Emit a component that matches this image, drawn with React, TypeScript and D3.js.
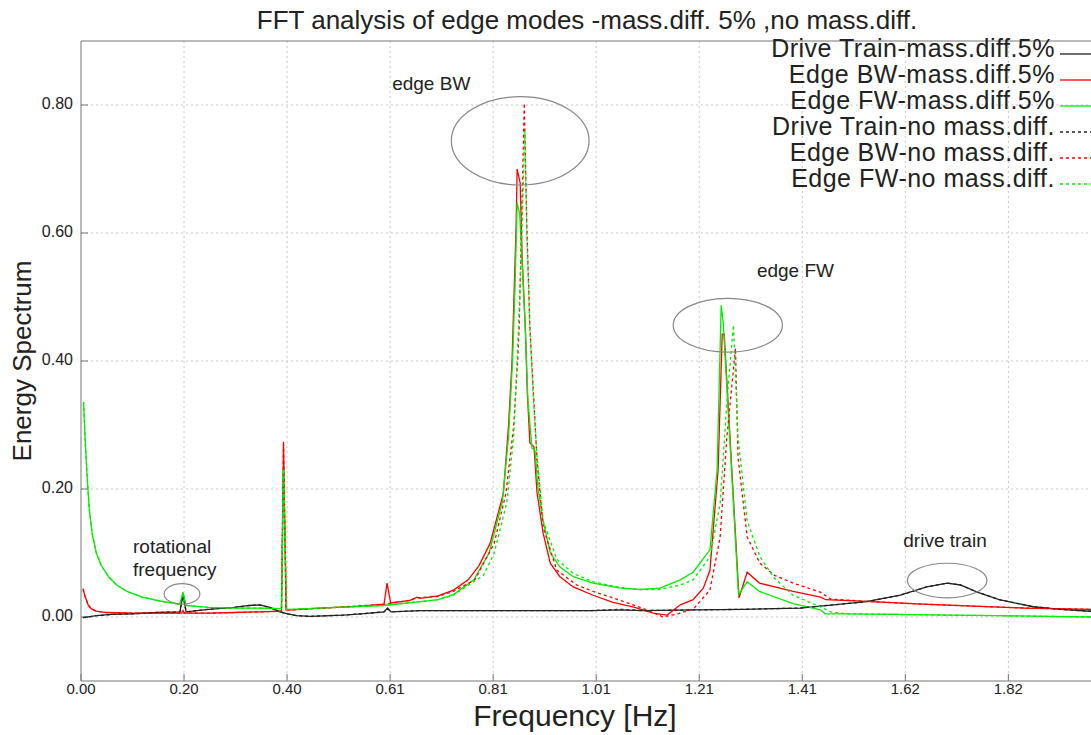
import React from "react";
import * as d3 from "d3";

type P = [number, number];

const titleText = "FFT analysis of edge modes -mass.diff. 5% ,no mass.diff.";
const xLabel = "Frequency [Hz]";
const yLabel = "Energy Spectrum";

const xTickValues = [0, 0.202, 0.404, 0.606, 0.808, 1.01, 1.212, 1.414, 1.616, 1.818];
const xTickLabels = ["0.00", "0.20", "0.40", "0.61", "0.81", "1.01", "1.21", "1.41", "1.62", "1.82"];
const yTickValues = [0, 0.2, 0.4, 0.6, 0.8];
const yTickLabels = ["0.00", "0.20", "0.40", "0.60", "0.80"];

const driveTrain5: P[] = [
  [0.004, -0.001], [0.03, 0.002], [0.06, 0.004], [0.1, 0.005], [0.15, 0.007], [0.194, 0.008],
  [0.2, 0.036], [0.206, 0.008], [0.25, 0.012], [0.3, 0.015], [0.33, 0.018], [0.35, 0.019],
  [0.37, 0.015], [0.39, 0.008], [0.405, 0.005], [0.423, 0.002], [0.45, 0.001], [0.514, 0.003],
  [0.55, 0.005], [0.594, 0.008], [0.601, 0.014], [0.608, 0.008], [0.665, 0.01], [0.8, 0.01],
  [0.9, 0.01], [1.0, 0.01], [1.06, 0.011], [1.1, 0.01], [1.2, 0.011], [1.3, 0.012], [1.41, 0.014],
  [1.475, 0.019], [1.54, 0.024], [1.606, 0.034], [1.658, 0.047], [1.698, 0.053], [1.724, 0.05],
  [1.757, 0.039], [1.8, 0.027], [1.867, 0.016], [1.92, 0.012], [1.98, 0.009],
];

const edgeBW5: P[] = [
  [0.004, 0.044], [0.008, 0.032], [0.014, 0.019], [0.02, 0.013], [0.03, 0.009], [0.05, 0.007],
  [0.1, 0.006], [0.15, 0.006], [0.197, 0.006], [0.2, 0.01], [0.203, 0.006], [0.25, 0.006],
  [0.3, 0.007], [0.35, 0.008], [0.393, 0.009], [0.397, 0.274], [0.402, 0.011], [0.414, 0.011],
  [0.45, 0.013], [0.5, 0.015], [0.55, 0.017], [0.594, 0.02], [0.6, 0.053], [0.607, 0.022],
  [0.645, 0.026], [0.659, 0.031], [0.665, 0.029], [0.7, 0.033], [0.73, 0.042], [0.759, 0.058],
  [0.78, 0.08], [0.802, 0.115], [0.828, 0.193], [0.838, 0.297], [0.845, 0.4], [0.849, 0.506],
  [0.853, 0.61], [0.855, 0.7], [0.861, 0.678], [0.865, 0.558], [0.871, 0.453], [0.875, 0.35],
  [0.88, 0.272], [0.888, 0.266], [0.894, 0.194], [0.906, 0.131], [0.92, 0.084], [0.939, 0.063],
  [0.965, 0.047], [1.004, 0.034], [1.043, 0.023], [1.082, 0.016], [1.122, 0.006], [1.149, 0.003],
  [1.175, 0.019], [1.2, 0.027], [1.22, 0.045], [1.233, 0.073], [1.249, 0.23], [1.257, 0.442],
  [1.261, 0.442], [1.29, 0.03], [1.306, 0.07], [1.33, 0.053], [1.396, 0.04], [1.45, 0.031],
  [1.46, 0.027], [1.55, 0.024], [1.65, 0.02], [1.75, 0.017], [1.85, 0.014], [1.98, 0.012],
];

const edgeFW5: P[] = [
  [0.005, 0.336], [0.008, 0.28], [0.012, 0.22], [0.016, 0.17], [0.022, 0.13], [0.03, 0.1],
  [0.04, 0.08], [0.055, 0.062], [0.07, 0.05], [0.09, 0.04], [0.12, 0.031], [0.155, 0.025],
  [0.194, 0.02], [0.2, 0.039], [0.206, 0.018], [0.25, 0.015], [0.3, 0.014], [0.35, 0.014],
  [0.393, 0.013], [0.397, 0.233], [0.403, 0.012], [0.414, 0.012], [0.5, 0.015], [0.592, 0.018],
  [0.665, 0.024], [0.7, 0.027], [0.73, 0.035], [0.77, 0.058], [0.8, 0.1], [0.826, 0.18],
  [0.838, 0.28], [0.846, 0.4], [0.851, 0.52], [0.855, 0.647], [0.86, 0.63], [0.865, 0.55],
  [0.871, 0.45], [0.876, 0.34], [0.884, 0.264], [0.89, 0.26], [0.896, 0.2], [0.906, 0.15],
  [0.92, 0.1], [0.939, 0.078], [0.965, 0.063], [1.004, 0.053], [1.057, 0.045], [1.096, 0.043],
  [1.135, 0.045], [1.175, 0.058], [1.2, 0.07], [1.233, 0.105], [1.247, 0.23], [1.255, 0.487],
  [1.259, 0.46], [1.289, 0.035], [1.306, 0.055], [1.33, 0.04], [1.396, 0.021], [1.45, 0.011],
  [1.459, 0.005], [1.5, 0.005], [1.6, 0.004], [1.7, 0.003], [1.8, 0.002], [1.98, 0.0],
];

const driveTrainNo: P[] = [
  [0.004, -0.001], [0.03, 0.002], [0.06, 0.004], [0.1, 0.005], [0.15, 0.007], [0.194, 0.008],
  [0.2, 0.034], [0.206, 0.008], [0.25, 0.012], [0.3, 0.015], [0.33, 0.018], [0.35, 0.019],
  [0.37, 0.015], [0.39, 0.008], [0.405, 0.005], [0.423, 0.002], [0.45, 0.001], [0.514, 0.003],
  [0.55, 0.005], [0.594, 0.008], [0.601, 0.013], [0.608, 0.008], [0.665, 0.01], [0.8, 0.01],
  [0.9, 0.01], [1.0, 0.01], [1.06, 0.012], [1.1, 0.01], [1.2, 0.011], [1.3, 0.012], [1.41, 0.014],
  [1.475, 0.019], [1.54, 0.024], [1.606, 0.034], [1.658, 0.047], [1.698, 0.053], [1.724, 0.05],
  [1.757, 0.039], [1.8, 0.027], [1.867, 0.016], [1.92, 0.012], [1.98, 0.009],
];

const edgeBWNo: P[] = [
  [0.004, 0.044], [0.008, 0.032], [0.014, 0.019], [0.02, 0.013], [0.03, 0.009], [0.05, 0.007],
  [0.1, 0.006], [0.15, 0.006], [0.25, 0.006], [0.3, 0.007], [0.35, 0.008], [0.393, 0.009],
  [0.397, 0.27], [0.402, 0.011], [0.414, 0.011], [0.5, 0.015], [0.594, 0.02], [0.645, 0.026],
  [0.659, 0.03], [0.7, 0.032], [0.73, 0.04], [0.772, 0.058], [0.81, 0.115], [0.833, 0.193],
  [0.848, 0.297], [0.856, 0.4], [0.859, 0.453], [0.865, 0.662], [0.869, 0.803], [0.874, 0.61],
  [0.88, 0.453], [0.887, 0.35], [0.894, 0.245], [0.906, 0.14], [0.933, 0.073], [0.972, 0.05],
  [1.004, 0.04], [1.05, 0.028], [1.1, 0.014], [1.141, 0.0], [1.17, 0.005], [1.2, 0.012],
  [1.233, 0.042], [1.253, 0.125], [1.266, 0.28], [1.283, 0.42], [1.288, 0.25], [1.306, 0.125],
  [1.331, 0.084], [1.36, 0.065], [1.396, 0.053], [1.449, 0.039], [1.47, 0.028], [1.55, 0.024],
  [1.65, 0.02], [1.75, 0.017], [1.85, 0.014], [1.98, 0.012],
];

const edgeFWNo: P[] = [
  [0.005, 0.336], [0.008, 0.28], [0.012, 0.22], [0.016, 0.17], [0.022, 0.13], [0.03, 0.1],
  [0.04, 0.08], [0.055, 0.062], [0.07, 0.05], [0.09, 0.04], [0.12, 0.031], [0.155, 0.025],
  [0.194, 0.02], [0.2, 0.037], [0.206, 0.018], [0.25, 0.015], [0.3, 0.014], [0.35, 0.014],
  [0.393, 0.013], [0.397, 0.23], [0.403, 0.012], [0.414, 0.012], [0.5, 0.015], [0.592, 0.018],
  [0.665, 0.024], [0.7, 0.027], [0.73, 0.034], [0.76, 0.05], [0.789, 0.065], [0.81, 0.1],
  [0.835, 0.18], [0.848, 0.28], [0.855, 0.4], [0.86, 0.5], [0.865, 0.62], [0.87, 0.76],
  [0.874, 0.6], [0.88, 0.45], [0.887, 0.34], [0.894, 0.25], [0.906, 0.15], [0.933, 0.09],
  [0.965, 0.068], [1.004, 0.055], [1.057, 0.046], [1.096, 0.043], [1.135, 0.043], [1.175, 0.05],
  [1.2, 0.058], [1.233, 0.094], [1.253, 0.178], [1.266, 0.334], [1.279, 0.456], [1.288, 0.28],
  [1.306, 0.15], [1.331, 0.094], [1.36, 0.06], [1.396, 0.034], [1.449, 0.016], [1.47, 0.008],
  [1.5, 0.005], [1.6, 0.004], [1.7, 0.003], [1.8, 0.002], [1.98, 0.0],
];

const seriesNames = [
  "Drive Train-mass.diff.5%",
  "Edge BW-mass.diff.5%",
  "Edge FW-mass.diff.5%",
  "Drive Train-no mass.diff.",
  "Edge BW-no mass.diff.",
  "Edge FW-no mass.diff.",
];
const seriesData = [driveTrain5, edgeBW5, edgeFW5, driveTrainNo, edgeBWNo, edgeFWNo];
const seriesColors = ["#222222", "#ff0000", "#00ee00", "#222222", "#ff0000", "#00ee00"];
const seriesDashed = [false, false, false, true, true, true];

// annotations: label lines, label anchor (data), ellipse center (data), ellipse radii (data units)
const annotationLabels = [["edge BW"], ["edge FW"], ["rotational", "frequency"], ["drive train"]];
const annotationLabelPos: P[] = [[0.61, 0.824], [1.325, 0.532], [0.102, 0.1], [1.612, 0.109]];
const ellipseCenters: P[] = [[0.861, 0.744], [1.268, 0.456], [0.198, 0.036], [1.698, 0.057]];
const ellipseRadii: P[] = [[0.135, 0.069], [0.107, 0.042], [0.035, 0.016], [0.078, 0.027]];

const W = 1091;
const H = 735;
const left = 81;
const top = 41;
const right = 1091;
const bottom = 681;

export default function App() {
  const x = d3.scaleLinear().domain([0, 1.98]).range([left, right]);
  const y = d3.scaleLinear().domain([-0.1, 0.9]).range([bottom, top]);
  const line = d3
    .line<P>()
    .x((d) => x(d[0]))
    .y((d) => y(d[1]));
  const font = "'Liberation Sans', Arial, sans-serif";

  return (
    <svg
      width={W}
      height={H}
      style={{ position: "absolute", left: 0, top: 0, background: "#fff" }}
      fontFamily={font}
    >
      <rect x={0} y={0} width={W} height={H} fill="#fff" />
      {/* grid */}
      {xTickValues.slice(1).map((t, i) => (
        <line key={"gx" + i} x1={x(t)} x2={x(t)} y1={top} y2={bottom} stroke="#c8c8c8" strokeWidth={1} strokeDasharray="2,3" />
      ))}
      {yTickValues.map((t, i) => (
        <line key={"gy" + i} x1={left} x2={right} y1={y(t)} y2={y(t)} stroke="#c8c8c8" strokeWidth={1} strokeDasharray="2,3" />
      ))}
      {/* frame */}
      <line x1={left} x2={right} y1={top} y2={top} stroke="#777" strokeWidth={1} />
      <line x1={left} x2={left} y1={top} y2={bottom} stroke="#777" strokeWidth={1} />
      <line x1={left} x2={right} y1={bottom} y2={bottom} stroke="#777" strokeWidth={1} />
      {/* ticks */}
      {xTickValues.map((t, i) => (
        <g key={"xt" + i}>
          <line x1={x(t)} x2={x(t)} y1={bottom} y2={bottom - 7} stroke="#777" />
          <text x={x(t)} y={694} fontSize={15} textAnchor="middle" fill="#222">
            {xTickLabels[i]}
          </text>
        </g>
      ))}
      {yTickValues.map((t, i) => (
        <g key={"yt" + i}>
          <line x1={left} x2={left + 7} y1={y(t)} y2={y(t)} stroke="#777" />
          <text x={73} y={y(t) + 4} fontSize={16} textAnchor="end" fill="#222">
            {yTickLabels[i]}
          </text>
        </g>
      ))}
      {/* series */}
      <g>
        {seriesData.map((d, i) => (
          <path
            key={"s" + i}
            d={line(d) || ""}
            fill="none"
            stroke={seriesColors[i]}
            strokeWidth={1.3}
            strokeDasharray={seriesDashed[i] ? "3,3" : undefined}
          />
        ))}
      </g>
      {/* annotations */}
      {ellipseCenters.map((c, i) => (
        <ellipse
          key={"el" + i}
          cx={x(c[0])}
          cy={y(c[1])}
          rx={x(ellipseRadii[i][0]) - x(0)}
          ry={y(0) - y(ellipseRadii[i][1])}
          fill="none"
          stroke="#888"
          strokeWidth={1.2}
        />
      ))}
      {annotationLabels.map((lines, i) => (
        <text key={"al" + i} x={x(annotationLabelPos[i][0])} y={y(annotationLabelPos[i][1])} fontSize={19} fill="#222">
          {lines.map((l, j) => (
            <tspan key={j} x={x(annotationLabelPos[i][0])} dy={j === 0 ? 0 : 23}>
              {l}
            </tspan>
          ))}
        </text>
      ))}
      {/* legend */}
      {seriesNames.map((n, i) => (
        <g key={"lg" + i}>
          <text x={1055} y={57 + 26 * i} fontSize={25} letterSpacing={0.5} textAnchor="end" fill="#222">
            {n}
          </text>
          <line
            x1={1060}
            x2={1091}
            y1={54 + 26 * i}
            y2={54 + 26 * i}
            stroke={seriesColors[i]}
            strokeWidth={1.3}
            strokeDasharray={seriesDashed[i] ? "3,3" : undefined}
          />
        </g>
      ))}
      {/* titles */}
      <text x={587} y={29} fontSize={26} textAnchor="middle" fill="#222">
        {titleText}
      </text>
      <text x={575} y={726} fontSize={30} textAnchor="middle" fill="#222">
        {xLabel}
      </text>
      <text transform={`translate(31,361) rotate(-90)`} fontSize={26} textAnchor="middle" fill="#222">
        {yLabel}
      </text>
    </svg>
  );
}
